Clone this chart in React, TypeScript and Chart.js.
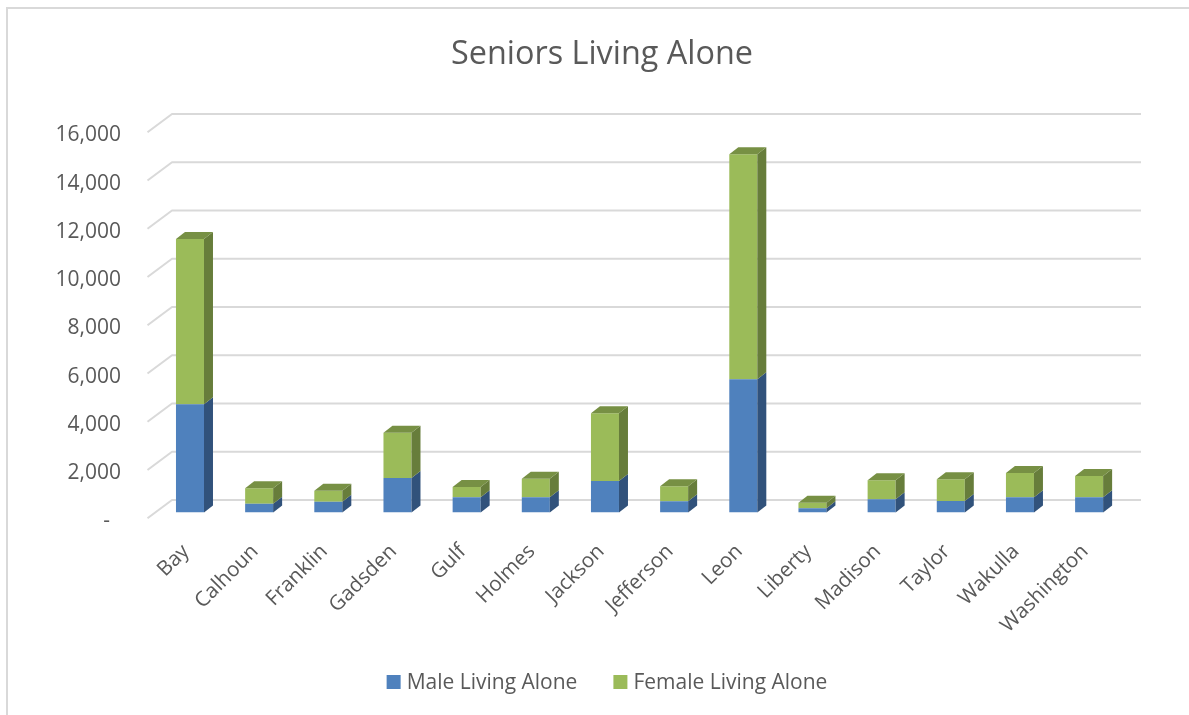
import React, { useEffect, useRef } from "react";
import { Chart, registerables } from "chart.js";

Chart.register(...registerables);

const counties = ["Bay", "Calhoun", "Franklin", "Gadsden", "Gulf", "Holmes", "Jackson", "Jefferson", "Leon", "Liberty", "Madison", "Taylor", "Wakulla", "Washington"];
const maleLivingAlone = [4485, 365, 448, 1430, 630, 630, 1306, 464, 5521, 174, 547, 477, 630, 630];
const femaleLivingAlone = [6852, 635, 456, 1878, 427, 771, 2806, 622, 9327, 232, 788, 899, 1007, 883];

const TEXT = "#595959";
const GRID = "#D9D9D9";
const FONT = '"Open Sans", sans-serif';

const faces = [
  { front: "#4F81BD", side: "#31527B", top: "#3F6797" },
  { front: "#9BBB59", side: "#677D3B", top: "#779044" },
];

// Depth of the bars and of the wall behind them, in canvas pixels.
const BAR_DEPTH = { x: 9, y: 7 };
const WALL = { backLeft: 16.6, backRight: 17.3, frontLeft: -7.9, backY: -12.5, frontY: 5.8 };

const frame = {
  id: "frame",
  beforeDraw(chart: any) {
    const { ctx, width, height } = chart;
    ctx.save();
    ctx.fillStyle = "#FFFFFF";
    ctx.fillRect(0, 0, width, height);
    ctx.strokeStyle = GRID;
    ctx.lineWidth = 2;
    ctx.beginPath();
    ctx.moveTo(7, height);
    ctx.lineTo(7, 8);
    ctx.lineTo(width, 8);
    ctx.stroke();
    ctx.restore();
  },
};

// The heading sits a little right of the canvas centre.
const titleShift = {
  id: "titleShift",
  afterLayout(chart: any) {
    const t = chart.titleBlock;
    const shift = 602 - (t.left + t.right) / 2;
    t.left += shift;
    t.right += shift;
  },
};

const wall = {
  id: "wall",
  beforeDatasetsDraw(chart: any) {
    const { ctx, chartArea, scales } = chart;
    ctx.save();
    ctx.strokeStyle = GRID;
    ctx.lineWidth = 2;
    ctx.lineJoin = "round";
    for (const tick of scales.y.ticks) {
      const y = scales.y.getPixelForValue(tick.value);
      ctx.beginPath();
      ctx.moveTo(chartArea.left + WALL.frontLeft, y + WALL.frontY);
      ctx.lineTo(chartArea.left + WALL.backLeft, y + WALL.backY);
      ctx.lineTo(chartArea.right + WALL.backRight, y + WALL.backY);
      ctx.stroke();
    }
    ctx.restore();
  },
};

const polygon = (ctx: any, fill: string, pts: number[][]) => {
  ctx.fillStyle = fill;
  ctx.beginPath();
  pts.forEach(([x, y], i) => (i ? ctx.lineTo(x, y) : ctx.moveTo(x, y)));
  ctx.closePath();
  ctx.fill();
};

const boxes = {
  id: "boxes",
  afterDatasetsDraw(chart: any) {
    const { ctx } = chart;
    const { x: dx, y: dy } = BAR_DEPTH;
    const last = chart.data.datasets.length - 1;
    ctx.save();
    chart.data.datasets.forEach((_: any, d: number) => {
      chart.getDatasetMeta(d).data.forEach((bar: any) => {
        const right = bar.x + bar.width / 2;
        const left = bar.x - bar.width / 2;
        polygon(ctx, faces[d].side, [[right, bar.base], [right + dx, bar.base - dy], [right + dx, bar.y - dy], [right, bar.y]]);
        if (d === last) {
          polygon(ctx, faces[d].top, [[left, bar.y], [left + dx, bar.y - dy], [right + dx, bar.y - dy], [right, bar.y]]);
        }
      });
    });
    ctx.restore();
  },
};

const legendRow = {
  id: "legendRow",
  afterDraw(chart: any) {
    const { ctx } = chart;
    const box = 14;
    const gapText = 6;
    const gapItem = 36;
    const midX = 607;
    const midY = 683;
    ctx.save();
    ctx.font = `21px ${FONT}`;
    ctx.textBaseline = "middle";
    ctx.textAlign = "left";
    const items = chart.data.datasets.map((d: any) => ({ label: d.label, color: d.backgroundColor, w: ctx.measureText(d.label).width }));
    const total = items.reduce((s: number, it: any) => s + box + gapText + it.w, 0) + gapItem * (items.length - 1);
    let x = midX - total / 2;
    for (const it of items) {
      ctx.fillStyle = it.color;
      ctx.fillRect(x, midY - 1 - box / 2, box, box);
      ctx.fillStyle = TEXT;
      ctx.fillText(it.label, x + box + gapText, midY);
      x += box + gapText + it.w + gapItem;
    }
    ctx.restore();
  },
};

export default function App() {
  const ref = useRef<HTMLCanvasElement>(null);

  useEffect(() => {
    const chart = new Chart(ref.current as HTMLCanvasElement, {
      type: "bar",
      data: {
        labels: counties,
        datasets: [
          { label: "Male Living Alone", data: maleLivingAlone, backgroundColor: faces[0].front, barPercentage: 0.405, categoryPercentage: 1 },
          { label: "Female Living Alone", data: femaleLivingAlone, backgroundColor: faces[1].front, barPercentage: 0.405, categoryPercentage: 1 },
        ],
      },
      options: {
        responsive: false,
        animation: false,
        layout: { padding: { left: 0, right: 65.3, top: 0, bottom: 0 } },
        plugins: {
          legend: { display: false },
          tooltip: { enabled: false },
          title: {
            display: true,
            text: "Seniors Living Alone",
            color: TEXT,
            font: { family: FONT, size: 32.4, weight: "normal", lineHeight: 1.2 },
            padding: { top: 35, bottom: 52.6 },
          },
        },
        scales: {
          x: {
            stacked: true,
            grid: { display: false, drawTicks: false },
            border: { display: false },
            afterFit: (s: any) => { s.height = 202.5; },
            ticks: { autoSkip: false, minRotation: 45, maxRotation: 45, padding: 27, labelOffset: -4, color: TEXT, font: { family: FONT, size: 20.6 } },
          },
          y: {
            stacked: true,
            min: 0,
            max: 16000,
            grid: { display: false, drawTicks: false },
            border: { display: false },
            afterFit: (s: any) => { s.width = 155.4; },
            ticks: {
              stepSize: 2000,
              padding: 34.4,
              labelOffset: 8.8,
              color: TEXT,
              font: { family: FONT, size: 21 },
              callback: (v: any) => (v === 0 ? "-\u00A0\u00A0" : Number(v).toLocaleString("en-US")),
            },
          },
        },
      },
      plugins: [frame, titleShift, wall, boxes, legendRow],
    } as any);
    return () => chart.destroy();
  }, []);

  return (
    <div style={{ position: "absolute", left: 0, top: 0 }}>
      <canvas ref={ref} width={1189} height={715} style={{ display: "block" }} />
    </div>
  );
}
